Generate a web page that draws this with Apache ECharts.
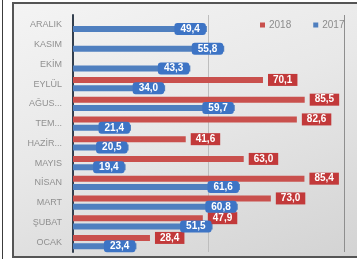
<!DOCTYPE html>
<html>
<head>
<meta charset="utf-8">
<script src="https://cdn.jsdelivr.net/npm/echarts@6/dist/echarts.min.js"></script>
<style>
  html, body { margin: 0; padding: 0; background: #ffffff; }
  body { width: 357px; height: 259px; position: relative; overflow: hidden; }
  #leftline { position: absolute; left: 2px; top: 0; width: 1px; height: 259px; background: #3c3c3c; }
  #frame {
    position: absolute; left: 12px; top: 2px; width: 345px; height: 252px;
    border-left: 2px solid #555; border-top: 2px solid #555; border-bottom: 2px solid #555;
    background: linear-gradient(160deg, #f4f4f4 0%, #e8e8e8 45%, #d3d3d3 100%);
  }
  #main { width: 343px; height: 252px; }
</style>
</head>
<body>
<div id="leftline"></div>
<div id="frame"><div id="main"></div></div>
<script>
// aylar, alttan üste
var months = ['OCAK', 'ŞUBAT', 'MART', 'NİSAN', 'MAYIS', 'HAZİR...', 'TEM...', 'AĞUS...', 'EYLÜL', 'EKİM', 'KASIM', 'ARALIK'];
var values2018 = [28.4, 47.9, 73.0, 85.4, 63.0, 41.6, 82.6, 85.5, 70.1, null, null, null];
var values2017 = [23.4, 51.5, 60.8, 61.6, 19.4, 20.5, 21.4, 59.7, 34.0, 43.3, 55.8, 49.4];

var chartDom = document.getElementById('main');
var myChart = echarts.init(chartDom);
var option;

function fmt(p) {
  return p.value == null ? '' : p.value.toFixed(1).replace('.', ',');
}

option = {
  animation: false,
  textStyle: { fontFamily: 'Liberation Sans' },
  legend: {
    data: ['2018', '2017'],
    left: 241,
    top: 11,
    itemWidth: 5,
    itemHeight: 5,
    itemGap: 22,
    icon: 'rect',
    textStyle: { color: '#8c8c8c', fontSize: 10, padding: [0, 0, 0, -1] }
  },
  grid: { left: 59, right: 13, top: 11, bottom: 4 },
  xAxis: {
    type: 'value',
    min: 0,
    max: 100,
    interval: 50,
    axisLabel: { show: false },
    axisTick: { show: false },
    axisLine: { show: false },
    splitLine: { lineStyle: { color: ['#9a9a9a', '#bdbdbd', '#8e8e8e'], width: 1 } }
  },
  yAxis: {
    type: 'category',
    data: months,
    axisTick: { show: false },
    axisLine: { lineStyle: { color: '#34404f', width: 2 } },
    axisLabel: { color: '#909090', fontSize: 9, margin: 11 }
  },
  series: [
    {
      name: '2018',
      type: 'bar',
      data: values2018,
      barWidth: 6,
      barGap: '40%',
      itemStyle: { color: '#c9504d' },
      label: {
        show: true,
        position: 'right',
        distance: 5,
        formatter: fmt,
        color: '#ffffff',
        fontWeight: 'bold',
        fontSize: 10,
        lineHeight: 10,
        backgroundColor: '#c2393a',
        padding: [1, 5]
      }
    },
    {
      name: '2017',
      type: 'bar',
      data: values2017,
      barWidth: 6,
      barGap: '40%',
      itemStyle: { color: '#4f7fbf' },
      label: {
        show: true,
        position: 'insideRight',
        distance: 1,
        formatter: fmt,
        color: '#ffffff',
        fontWeight: 'bold',
        fontSize: 10,
        lineHeight: 10,
        backgroundColor: '#3d74c5',
        borderRadius: 3,
        padding: [1, 6]
      }
    }
  ]
};

option && myChart.setOption(option);
</script>
</body>
</html>
